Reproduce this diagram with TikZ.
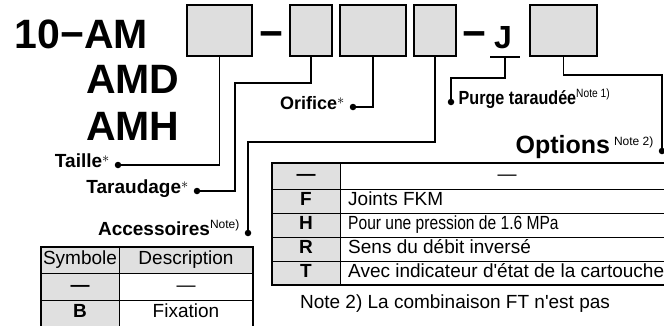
\documentclass[tikz,border=0pt]{standalone}
\usepackage{fontspec}
\setmainfont{Liberation Sans}[Ligatures=TeXOff]
\usepackage{graphicx}
\usetikzlibrary{calc}
\definecolor{boxgray}{HTML}{DEDEDE}
\definecolor{cellgray}{HTML}{E0E0E0}
\newcommand{\fsz}[1]{\fontsize{#1}{#1}\selectfont}
\newcommand{\noteup}[2][7pt]{\raisebox{#1}{\fsz{12}\mdseries #2}}
\newcommand{\astsup}{\raisebox{5pt}{\fsz{15}\mdseries$\ast$}}

\begin{document}
\begin{tikzpicture}[
  x=1pt, y=-1pt,
  codebox/.style={draw, line width=2.2pt, fill=boxgray, minimum height=50.8pt, inner sep=0pt},
  conn/.style={line width=1.8pt},
  dot/.style={circle, fill, inner sep=0pt, minimum size=6.5pt},
  lbl/.style={font=\fsz{19}\bfseries, inner sep=0pt},
  bigtxt/.style={font=\fsz{41}\bfseries, inner sep=0pt},
  cell/.style={font=\fsz{19}, inner sep=0pt, anchor=mid},
  sym/.style={font=\fsz{19}\bfseries, inner sep=0pt, anchor=mid},
  grid/.style={line width=1pt},
  frame/.style={line width=1.8pt}
]
\useasboundingbox (0,0) rectangle (664,325);
\clip (0,0) rectangle (664,325);

% --- model code ---
\node[bigtxt, anchor=base east] (t10) at (148,48) {10−AM};
\node[bigtxt, anchor=base west] (tAMD) at (86,93) {AMD};
\node[bigtxt, anchor=base west] (tAMH) at (86,140) {AMH};

\node[codebox, minimum width=64.8pt] (b1) at (219.5,30.5) {};
\node[bigtxt, anchor=base] (dash1) at (271.5,47) {−};
\node[codebox, minimum width=41.8pt] (b2) at (311,30.5) {};
\node[codebox, minimum width=65.8pt] (b3) at (373,30.5) {};
\node[codebox, minimum width=41.8pt] (b4) at (435,30.5) {};
\node[bigtxt, anchor=base] (dash2) at (474.5,47) {−};
\node[font=\fsz{32}\bfseries, inner sep=0pt, anchor=base] (J) at (503,48) {J};
\coordinate (Jbar) at (505,57);
\node[codebox, minimum width=66.8pt] (b5) at (563.5,30.5) {};

% --- dots and labels ---
\node[dot] (dTaille) at (118,165) {};
\node[dot] (dTaraud) at (197,191) {};
\node[dot] (dOrif) at (353,107) {};
\node[dot] (dAcc) at (248,233) {};
\node[dot] (dPurge) at (451,102) {};
\node[dot] (dOpt) at (662,151) {};

\node[lbl, anchor=mid east] (tTaille) at ([xshift=-5pt]dTaille.west) {Taille\astsup};
\node[lbl, anchor=mid east] (tTaraud) at ([xshift=-5pt]dTaraud.west) {Taraudage\astsup};
\node[lbl, anchor=mid east, font=\fsz{18}\bfseries] (tOrif) at ([xshift=-5pt]dOrif.west) {Orifice\astsup};
\node[lbl, anchor=mid east] (tAcc) at ([xshift=-5pt]dAcc.west) {Accessoires\noteup{Note)}};
\node[lbl, anchor=mid west] (tPurge) at ([xshift=4pt]dPurge.east) {\scalebox{0.85}[1]{Purge taraudée\noteup{Note 1)}}};
\node[lbl, anchor=mid east, font=\fsz{25}\bfseries] (tOpt) at ([xshift=-5pt]dOpt.west) {Options\hspace{4pt}\noteup[8pt]{Note 2)}};

% --- connectors ---
\draw[conn] (b1.south) |- (dTaille);
\draw[conn] (b2.south) -- ++(0,26) -| ($(dTaraud)+(38,0)$) -- (dTaraud);
\draw[conn] (b3.south) |- (dOrif);
\draw[conn] (b4.south) -- ++(0,85) -| (dAcc);
\draw[conn] ($(Jbar)+(-15,0)$) -- ($(Jbar)+(15,0)$);
\draw[conn] (Jbar) -- ++(0,21) -| (dPurge);
\draw[conn] (b5.south) -- ++(0,18) -| (dOpt);

% --- table: accessoires ---
\fill[cellgray] (41,247) rectangle (119,330);
\fill[cellgray] (119,247) rectangle (253,273);
\draw[grid] (41,273) -- (253,273) (41,300) -- (253,300) (119,247) -- (119,330);
\draw[frame] (41,330) -- (41,247) -- (253,247) -- (253,330);
\node[cell] (aSymH) at (80,262) {Symbole};
\node[cell] (aDescH) at (186,262) {Description};
\node[sym] (aSym0) at (80,289) {—};
\node[cell] (aDesc0) at (186,289) {—};
\node[sym] (aSymB) at (80,315) {B};
\node[cell] (aDescB) at (186,315) {Fixation};

% --- table: options ---
\fill[cellgray] (272,163) rectangle (340,285);
\foreach \yy in {189,213,237,261}
  \draw[grid] (272,\yy) -- (674,\yy);
\draw[grid] (340,163) -- (340,285);
\draw[frame] (272,163) rectangle (674,285);
\node[sym] (oSym0) at (306,178) {—};
\node[cell] (oDesc0) at (507,178) {—};
\node[sym] (oSymF) at (306,203) {F};
\node[cell, anchor=mid west] (oDescF) at (348,203) {Joints FKM};
\node[sym] (oSymH) at (306,227) {H};
\node[cell, anchor=mid west] (oDescH) at (348,227) {\scalebox{0.82}[1]{Pour une pression de 1.6 MPa}};
\node[sym] (oSymR) at (306,251) {R};
\node[cell, anchor=mid west] (oDescR) at (348,251) {Sens du débit inversé};
\node[sym] (oSymT) at (306,275) {T};
\node[cell, anchor=mid west] (oDescT) at (348,275) {Avec indicateur d'état de la cartouche};
\node[cell] (note2) at (455,306) {Note 2) La combinaison FT n'est pas};
\end{tikzpicture}
\end{document}
